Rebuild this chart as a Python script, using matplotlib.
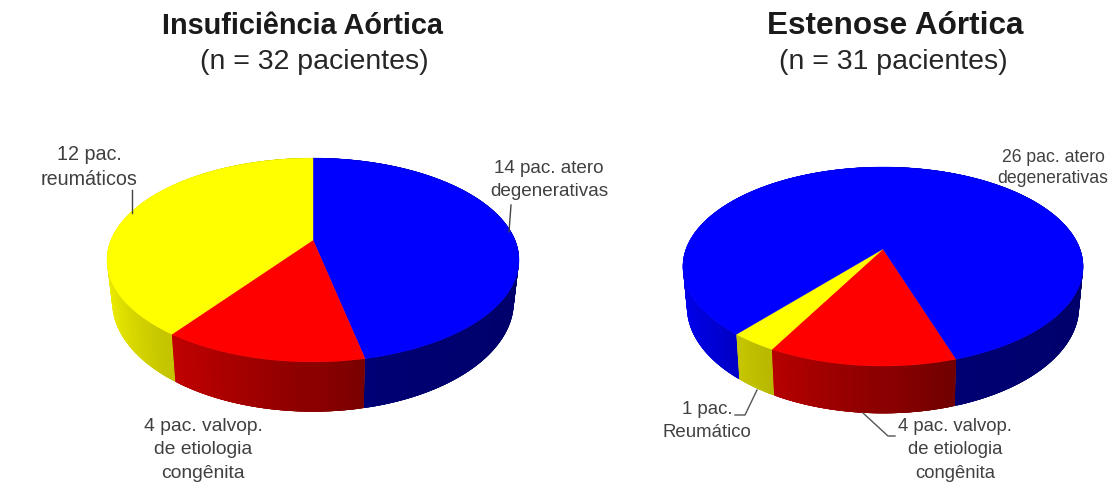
from matplotlib import pyplot as plt
import numpy as np

plt.rcParams["font.family"] = ["Liberation Sans", "DejaVu Sans"]

# Insuficiencia aortica, clockwise from the top
ia_values = [14, 4, 12]
ia_colors = [(0, 0, 1), (1, 0, 0), (1, 1, 0)]

# Estenose aortica, clockwise from the first slice
ea_values = [4, 1, 26]
ea_colors = [(1, 0, 0), (1, 1, 0), (0, 0, 1)]

# wall shading from left side of the pie to the right side
shade_x = [-1, -0.68, 0.25, 1]
shade_v = [0.95, 0.80, 0.45, 0.42]


# tilted disc, the far side gets compressed
def project(angle, cx, cy, a, b, k, depth=0.0, shrink=1.0):
    x = np.sin(angle)
    y = np.cos(angle)
    w = 1 + k * y
    return cx + shrink * a * x / w, cy - b * y / w + depth / w


def draw_pie(ax, values, colors, start, cx, cy, a, b, k, depth, shrink):
    edges = np.radians(start + np.cumsum([0] + values) / sum(values) * 360)

    # side wall, far strips first, each one overlaps the next to hide seams
    strips = []
    for i in range(len(values)):
        n = int(np.degrees(edges[i + 1] - edges[i])) + 1
        t = np.linspace(edges[i], edges[i + 1], n + 1)
        for j in range(n):
            t0 = max(t[j] - np.radians(1.5), edges[i])
            t1 = min(t[j + 1] + np.radians(1.5), edges[i + 1])
            strips.append((np.cos((t[j] + t[j + 1]) / 2), t0, t1, colors[i], (t[j] + t[j + 1]) / 2))
    strips.sort(key=lambda s: -s[0])
    for _, t0, t1, color, mid in strips:
        t = np.linspace(t0, t1, 5)
        xt, yt = project(t, cx, cy, a, b, k)
        xb, yb = project(t[::-1], cx, cy, a, b, k, depth, shrink)
        v = np.interp(np.sin(mid), shade_x, shade_v)
        c = tuple(v * np.array(color))
        ax.fill(np.r_[xt, xb], np.r_[yt, yb], color=c, lw=0)

    # top face
    for i in range(len(values)):
        t = np.linspace(edges[i], edges[i + 1], 200)
        xt, yt = project(t, cx, cy, a, b, k)
        ax.fill(np.r_[cx, xt], np.r_[cy, yt], color=colors[i], lw=0.3)


fig = plt.figure(figsize=(11.15, 4.84), dpi=100)
ax = fig.add_axes([0, 0, 1, 1])
ax.set_xlim(0, 1115)
ax.set_ylim(484, 0)
ax.axis("off")

draw_pie(ax, ia_values, ia_colors, 0, 313, 240, 202, 98, 0.196, 40, 0.975)
draw_pie(ax, ea_values, ea_colors, 162, 883, 249, 197, 96.4, 0.176, 39, 0.98)

# titles
ax.text(302, 26, "Insuficiência Aórtica", ha="center", va="center",
        fontsize=20.8, fontweight="bold", color="#1a1a1a")
ax.text(895, 26, "Estenose Aórtica", ha="center", va="center",
        fontsize=22.7, fontweight="bold", color="#1a1a1a")
ax.text(314, 62, "(n = 32 pacientes)", ha="center", va="center", fontsize=20.5, color="#262626")
ax.text(893, 62, "(n = 31 pacientes)", ha="center", va="center", fontsize=20.5, color="#262626")

# labels
label_color = "#404040"
ax.text(89, 167, "12 pac.\nreumáticos", ha="center", va="center",
        fontsize=14.2, color=label_color, linespacing=1.4)
ax.text(549, 180, "14 pac. atero\ndegenerativas", ha="center", va="center",
        fontsize=13.6, color=label_color, linespacing=1.5)
ax.text(203, 450, "4 pac. valvop.\nde etiologia\ncongênita", ha="center", va="center",
        fontsize=13.9, color=label_color, linespacing=1.48)
ax.text(1053, 168, "26 pac. atero\ndegenerativas", ha="center", va="center",
        fontsize=12.7, color=label_color, linespacing=1.35)
ax.text(707, 421, "1 pac.\nReumático", ha="center", va="center",
        fontsize=13.4, color=label_color, linespacing=1.4)
ax.text(955, 450, "4 pac. valvop.\nde etiologia\ncongênita", ha="center", va="center",
        fontsize=13.3, color=label_color, linespacing=1.5)

# leader lines
ax.plot([132, 132], [190, 213], color="#444444", lw=1)
ax.plot([511, 509], [205, 232], color="#444444", lw=1)
ax.plot([757, 745, 735], [390, 415, 415], color="#555555", lw=1)
ax.plot([863, 888, 895], [413, 436, 436], color="#555555", lw=1)

plt.savefig("out.png", dpi=100)
